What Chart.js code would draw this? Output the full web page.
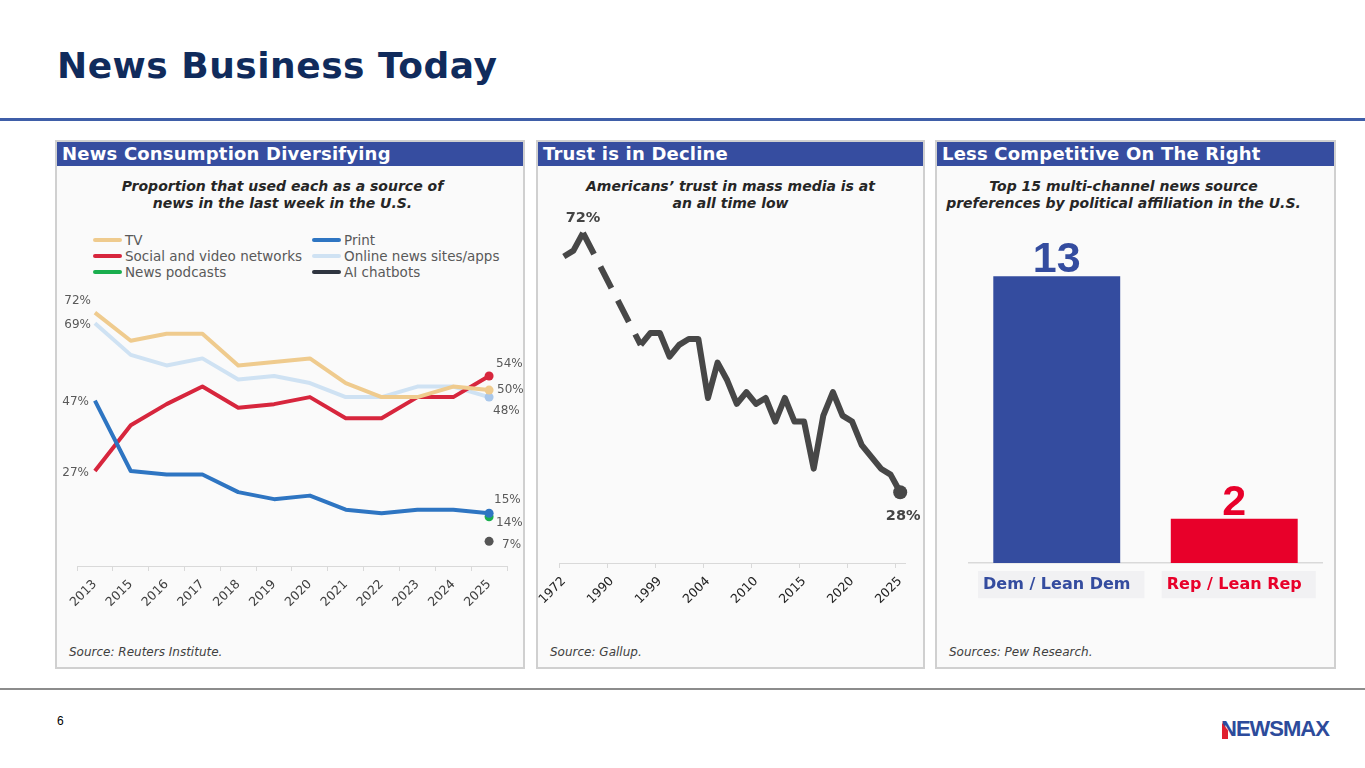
<!DOCTYPE html>
<html>
<head>
<meta charset="utf-8">
<title>News Business Today</title>
<script src="https://cdn.jsdelivr.net/npm/chart.js@4.4.1/dist/chart.umd.min.js"></script>
<style>
  html, body { margin: 0; padding: 0; }
  body {
    width: 1365px; height: 768px; position: relative; overflow: hidden;
    background: #fff; font-family: 'DejaVu Sans', sans-serif;
  }
  .title {
    position: absolute; left: 57px; top: 45px;
    font-size: 36px; font-weight: bold; color: #102b5c; white-space: nowrap; letter-spacing: 0.5px;
  }
  .topline { position: absolute; left: 0; top: 118px; width: 1365px; height: 3px; background: #3f5ea8; }
  .botline { position: absolute; left: 0; top: 688px; width: 1365px; height: 2px; background: #8c8c8c; }
  .panel {
    position: absolute; top: 140px; height: 529px; box-sizing: border-box;
    border: 2px solid #d0d0d0; background: #fafafa;
  }
  .hdr {
    height: 24px; line-height: 24px; background: #364da0; color: #fff;
    font-size: 18px; font-weight: bold; padding-left: 5px; white-space: nowrap; letter-spacing: 0.2px;
  }
  .sub {
    position: absolute; top: 36px; text-align: center;
    font-size: 14px; line-height: 17px; font-weight: bold; font-style: italic; color: #262626;
  }
  .src {
    position: absolute; left: 12px; top: 503px;
    font-size: 12px; font-style: italic; color: #404040;
  }
  .box { position: absolute; }
  #legend1 {
    position: absolute; left: 93px; top: 232px; width: 430px;
    display: grid; grid-template-columns: 219px 1fr;
    font-size: 13.5px; line-height: 16px; color: #595959;
  }
  #legend1 div { white-space: nowrap; }
  #legend1 i {
    display: inline-block; width: 29px; height: 4px; border-radius: 2px;
    vertical-align: middle; margin-right: 3px; position: relative; top: -1px;
  }
  .pg { position: absolute; left: 57px; top: 714px; font-family: 'Liberation Sans', Arial, sans-serif; font-size: 12px; color: #000; }
  .logo {
    position: absolute; left: 1221px; top: 716px;
    font-family: 'Liberation Sans', Arial, sans-serif; font-weight: bold; font-size: 22px;
    letter-spacing: -1px; color: #2d4b9b;
  }
  .logo b {
    position: absolute; left: 1px; top: 7px; width: 6px; height: 16px; background: #e0202f;
    clip-path: polygon(0 0, 100% 45%, 100% 100%, 0 100%);
  }
</style>
</head>
<body>
<div class="title">News Business Today</div>
<div class="topline"></div>

<div class="panel" style="left:55px;width:470px">
  <div class="hdr">News Consumption Diversifying</div>
  <div class="sub" style="left:0;width:451px">Proportion that used each as a source of<br>news in the last week in the U.S.</div>
  <div class="src">Source: Reuters Institute.</div>
</div>
<div class="panel" style="left:536px;width:389px">
  <div class="hdr">Trust is in Decline</div>
  <div class="sub" style="left:0;width:385px">Americans’ trust in mass media is at<br>an all time low</div>
  <div class="src">Source: Gallup.</div>
</div>
<div class="panel" style="left:935px;width:401px">
  <div class="hdr">Less Competitive On The Right</div>
  <div class="sub" style="left:0;width:373px">Top 15 multi-channel news source<br>preferences by political affiliation in the U.S.</div>
  <div class="src">Sources: Pew Research.</div>
</div>

<div id="legend1"></div>
<div class="box" style="left:37px;top:280px;width:492px;height:346px"><canvas id="chart-consumo"></canvas></div>
<div class="box" style="left:529px;top:205px;width:401px;height:418px"><canvas id="chart-trust"></canvas></div>
<div class="box" style="left:968px;top:232px;width:355px;height:381px"><canvas id="chart-affil"></canvas></div>

<div class="botline"></div>
<div class="pg">6</div>
<div class="logo"><b></b>NEWSMAX</div>

<script>
// Reuters Institute: weekly news sources, U.S.
const years = ['2013', '2015', '2016', '2017', '2018', '2019', '2020', '2021', '2022', '2023', '2024', '2025'];
const tv = [72, 64, 66, 66, 57, 58, 59, 52, 48, 48, 51, 50];
const print = [47, 27, 26, 26, 21, 19, 20, 16, 15, 16, 16, 15];
const social = [27, 40, 46, 51, 45, 46, 48, 42, 42, 48, 48, 54];
const online = [69, 60, 57, 59, 53, 54, 52, 48, 48, 51, 51, 48];
const podcasts = [null, null, null, null, null, null, null, null, null, null, null, 14];
const aiChatbots = [null, null, null, null, null, null, null, null, null, null, null, 7];

// Gallup: trust in mass media (blank slots = years without a survey)
const trustYears = ['1972', '1974', '1976', '', '', '1990', '', '', '1997', '1998', '1999', '2000',
  '2001', '2002', '2003', '2004', '2005', '2007', '2008', '2009', '2010', '2011', '2012', '2013',
  '2014', '2015', '2016', '2017', '2018', '2019', '2020', '2021', '2022', '2023', '2024', '2025'];
const trust = [68, 69, 72, null, null, null, null, null, 53, 55, 55, 51,
  53, 54, 54, 44, 50, 47, 43, 45, 43, 44, 40, 44,
  40, 40, 32, 41, 45, 41, 40, 36, 34, 32, 31, 28];

// Pew: top 15 sources by affiliation
const parties = ['Dem / Lean Dem', 'Rep / Lean Rep'];
const topSources = [13, 2];

Chart.defaults.font.family = "'DejaVu Sans', sans-serif";
Chart.defaults.animation = false;

// escreve o valor junto a pontos escolhidos
const pointLabels = {
  id: 'pointLabels',
  afterDatasetsDraw(chart, args, opts) {
    const ctx = chart.ctx;
    ctx.save();
    ctx.font = opts.font;
    ctx.fillStyle = opts.color;
    ctx.textBaseline = 'middle';
    (opts.items || []).forEach(it => {
      const el = chart.getDatasetMeta(it.ds).data[it.i];
      const v = chart.data.datasets[it.ds].data[it.i];
      if (!el || v == null) return;
      ctx.textAlign = it.align || 'center';
      ctx.fillText(v + '%', el.x + (it.dx || 0), el.y + (it.dy || 0));
    });
    ctx.restore();
  }
};

const lastOnly = n => ctx => ctx.dataIndex === n ? 4.5 : 0;

const serie = (label, data, color, dot) => ({
  label, data,
  borderColor: color,
  backgroundColor: color,
  pointBackgroundColor: dot || color,
  pointBorderWidth: 0,
  borderWidth: 4,
  pointRadius: lastOnly(years.length - 1),
  pointHoverRadius: 0,
  borderJoinStyle: 'round',
  tension: 0
});

const chartConsumo = new Chart(document.getElementById('chart-consumo'), {
  type: 'line',
  data: {
    labels: years,
    datasets: [
      serie('TV', tv, '#efcb8e'),
      serie('Print', print, '#2e75c2'),
      serie('Social and video networks', social, '#d7263d'),
      serie('Online news sites/apps', online, '#cfe2f3', '#a9c7ea'),
      serie('News podcasts', podcasts, '#1aae4e'),
      serie('AI chatbots', aiChatbots, '#2f3540', '#555555')
    ]
  },
  options: {
    responsive: true,
    maintainAspectRatio: false,
    layout: { padding: { left: 40, right: 22, top: 0, bottom: 0 } },
    plugins: {
      legend: { display: false },
      tooltip: { enabled: false },
      pointLabels: {
        font: "12px 'DejaVu Sans'",
        color: '#595959',
        items: [
          { ds: 0, i: 0, dx: -4, dy: -12, align: 'right' },
          { ds: 3, i: 0, dx: -4, dy: 2, align: 'right' },
          { ds: 1, i: 0, dx: -6, dy: 1, align: 'right' },
          { ds: 2, i: 0, dx: -6, dy: 2, align: 'right' },
          { ds: 2, i: 11, dx: 7, dy: -12, align: 'left' },
          { ds: 0, i: 11, dx: 8, dy: 0, align: 'left' },
          { ds: 3, i: 11, dx: 4, dy: 14, align: 'left' },
          { ds: 1, i: 11, dx: 5, dy: -13, align: 'left' },
          { ds: 4, i: 11, dx: 7, dy: 6, align: 'left' },
          { ds: 5, i: 11, dx: 13, dy: 4, align: 'left' }
        ]
      }
    },
    scales: {
      y: { display: false, min: 0, max: 80 },
      x: {
        offset: true,
        afterFit: s => { s.height = 60; },
        grid: { display: true, drawOnChartArea: false, offset: true, tickLength: 5, color: '#d9d9d9' },
        border: { display: true, color: '#d9d9d9' },
        ticks: { autoSkip: false, minRotation: 45, maxRotation: 45, padding: 6, color: '#404040', font: { size: 12.5 } }
      }
    }
  },
  plugins: [pointLabels]
});

// legenda em duas colunas, como no slide
const legenda = document.getElementById('legend1');
chartConsumo.data.datasets.forEach(ds => {
  const d = document.createElement('div');
  d.innerHTML = `<i style="background:${ds.borderColor}"></i>${ds.label}`;
  legenda.appendChild(d);
});

const skipped = (ctx, value) => ctx.p0.skip || ctx.p1.skip ? value : undefined;
const lastTrust = trust.length - 1;

new Chart(document.getElementById('chart-trust'), {
  type: 'line',
  data: {
    labels: trustYears,
    datasets: [{
      label: 'Trust in mass media',
      data: trust,
      borderColor: '#474747',
      backgroundColor: '#474747',
      borderWidth: 6,
      borderJoinStyle: 'round',
      pointRadius: ctx => ctx.dataIndex === lastTrust ? 7 : 0,
      pointBorderWidth: 0,
      pointHoverRadius: 0,
      spanGaps: true,
      segment: { borderDash: ctx => skipped(ctx, [24, 14]) },
      tension: 0
    }]
  },
  options: {
    responsive: true,
    maintainAspectRatio: false,
    layout: { padding: { left: 30, right: 25, top: 22, bottom: 0 } },
    plugins: {
      legend: { display: false },
      tooltip: { enabled: false },
      pointLabels: {
        font: "bold 14.5px 'DejaVu Sans'",
        color: '#444444',
        items: [
          { ds: 0, i: 2, dx: 0, dy: -15 },
          { ds: 0, i: lastTrust, dx: 3, dy: 24 }
        ]
      }
    },
    scales: {
      y: { display: false, min: 16, max: 73 },
      x: {
        offset: true,
        afterFit: s => { s.height = 60; },
        grid: {
          display: true, drawOnChartArea: false, offset: true, tickLength: 5,
          color: ctx => ctx.index % 5 === 0 ? '#d9d9d9' : 'rgba(0,0,0,0)'
        },
        border: { display: true, color: '#d9d9d9' },
        ticks: {
          autoSkip: false, minRotation: 45, maxRotation: 45, padding: 6,
          color: '#222222', font: { size: 12.5 },
          callback: (v, i) => i % 5 === 0 ? trustYears[i] : ''
        }
      }
    }
  },
  plugins: [pointLabels]
});

const partyColors = ['#344c9f', '#e8002a'];

// números grandes acima das barras
const barValues = {
  id: 'barValues',
  afterDatasetsDraw(chart) {
    const ctx = chart.ctx;
    const meta = chart.getDatasetMeta(0);
    ctx.save();
    ctx.font = "bold 43px 'Liberation Sans', Arial, sans-serif";
    ctx.textAlign = 'center';
    ctx.textBaseline = 'alphabetic';
    meta.data.forEach((bar, i) => {
      ctx.fillStyle = partyColors[i];
      ctx.fillText(chart.data.datasets[0].data[i], bar.x, bar.y - 4);
    });
    ctx.restore();
  }
};

new Chart(document.getElementById('chart-affil'), {
  type: 'bar',
  data: {
    labels: parties,
    datasets: [{
      label: 'Top 15 news sources',
      data: topSources,
      backgroundColor: partyColors,
      categoryPercentage: 1,
      barPercentage: 0.715
    }]
  },
  options: {
    responsive: true,
    maintainAspectRatio: false,
    layout: { padding: 0 },
    plugins: { legend: { display: false }, tooltip: { enabled: false } },
    scales: {
      y: { display: false, min: 0, max: 15 },
      x: {
        afterFit: s => { s.height = 50; },
        grid: { display: false },
        border: { display: true, color: '#d9d9d9', width: 1.5 },
        ticks: {
          padding: 4,
          font: { size: 16, weight: 'bold' },
          color: ctx => partyColors[ctx.index],
          showLabelBackdrop: true,
          backdropColor: '#f1f1f3',
          backdropPadding: { top: 4, bottom: 4, left: 5, right: 14 }
        }
      }
    }
  },
  plugins: [barValues]
});
</script>
</body>
</html>
